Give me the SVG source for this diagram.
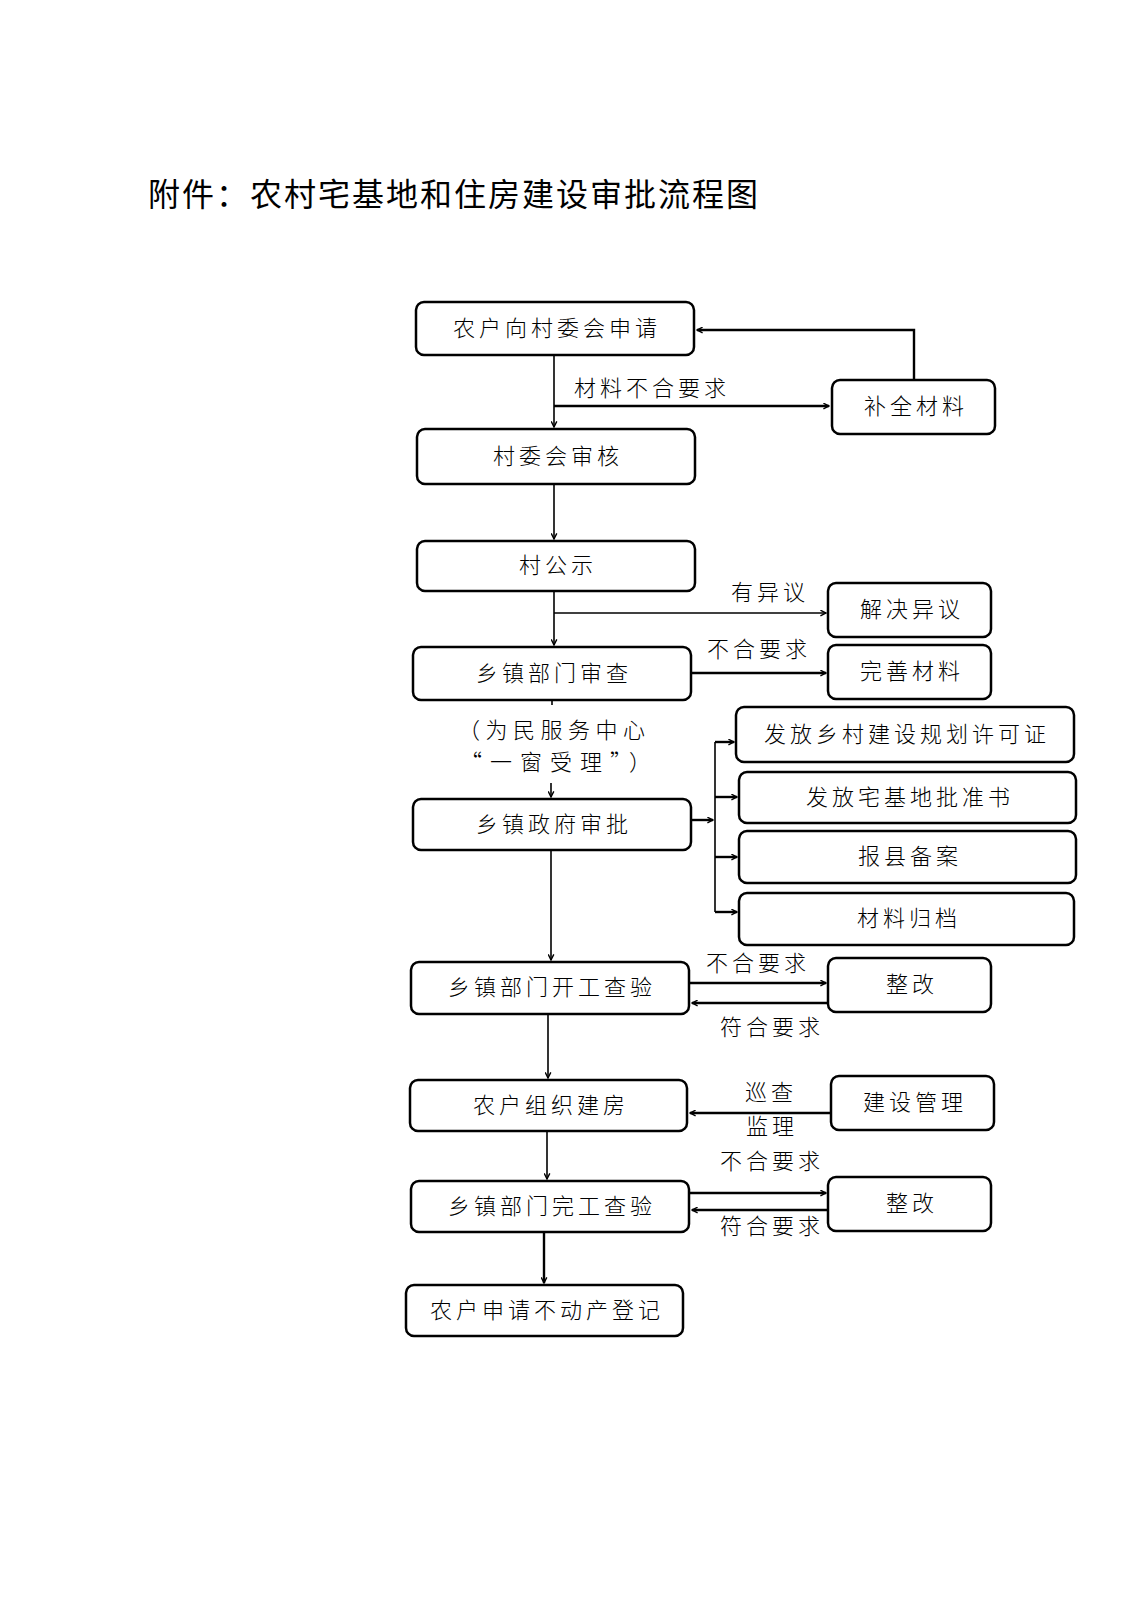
<svg xmlns="http://www.w3.org/2000/svg" width="1131" height="1600" viewBox="0 0 1131 1600">
<style>
.bg{fill:#fff}
.box{fill:#fff;stroke:#000;stroke-width:2.5}
.t{font-family:"Noto Sans CJK SC","Noto Sans",sans-serif;font-weight:300;font-size:22px;letter-spacing:4px;text-anchor:middle;fill:#000}
.lbl{font-family:"Noto Sans CJK SC","Noto Sans",sans-serif;font-weight:300;font-size:22px;letter-spacing:4px;fill:#000}
.title{font-family:"Noto Sans CJK SC","Noto Sans",sans-serif;font-weight:400;font-size:32px;letter-spacing:2px;fill:#000}
.c{fill:none;stroke:#000;stroke-width:1.6}
.ca{fill:none;stroke:#000;stroke-width:1.6;marker-end:url(#ah)}
.cb{fill:none;stroke:#000;stroke-width:2.4;marker-end:url(#ah)}
</style>
<defs>
<marker id="ah" viewBox="0 0 10 10" refX="9" refY="5" markerWidth="7" markerHeight="7" markerUnits="userSpaceOnUse" orient="auto">
<path d="M1,1 L9,5 L1,9" fill="none" stroke="#000" stroke-width="2"/>
</marker>
</defs>
<rect class="bg" x="0" y="0" width="1131" height="1600"/>
<text class="title" x="148" y="206">附件：农村宅基地和住房建设审批流程图</text>

<g id="connectors">
<path class="cb" d="M914,380 V330 H697"/>
<path class="ca" d="M554,355 V427"/>
<path class="cb" d="M554,406 H829"/>
<path class="ca" d="M554,484 V539"/>
<path class="ca" d="M554,591 V645"/>
<path class="ca" d="M554,613 H826"/>
<path class="cb" d="M691,673 H826"/>
<path class="c" d="M552,700 V705"/>
<path class="ca" d="M551,783 V797"/>
<path class="cb" d="M691,820 H713"/>
<path class="c" d="M715,742 V912"/>
<path class="cb" d="M715,742 H734"/>
<path class="cb" d="M715,797 H737"/>
<path class="cb" d="M715,857 H737"/>
<path class="cb" d="M715,912 H737"/>
<path class="ca" d="M551,850 V960"/>
<path class="cb" d="M689,983 H826"/>
<path class="cb" d="M828,1003 H692"/>
<path class="ca" d="M548,1014 V1078"/>
<path class="cb" d="M831,1113 H690"/>
<path class="ca" d="M547,1131 V1179"/>
<path class="cb" d="M689,1193 H826"/>
<path class="cb" d="M828,1210 H692"/>
<path class="cb" d="M544,1232 V1283"/>
<text class="lbl" x="574" y="396">材料不合要求</text>
<text class="lbl" x="731" y="600">有异议</text>
<text class="lbl" x="707" y="657">不合要求</text>
<text class="lbl" x="706" y="971">不合要求</text>
<text class="lbl" x="720" y="1035">符合要求</text>
<text class="lbl" x="745" y="1100">巡查</text>
<text class="lbl" x="746" y="1134">监理</text>
<text class="lbl" x="720" y="1169">不合要求</text>
<text class="lbl" x="720" y="1234">符合要求</text>
</g>

<g id="n1"><rect class="box" x="416" y="302" width="278" height="53" rx="8"/><text class="t" x="557" y="336">农户向村委会申请</text></g>
<g id="n_buquan"><rect class="box" x="832" y="380" width="163" height="54" rx="8"/><text class="t" x="916" y="414">补全材料</text></g>
<g id="n2"><rect class="box" x="417" y="429" width="278" height="55" rx="8"/><text class="t" x="558" y="464">村委会审核</text></g>
<g id="n3"><rect class="box" x="417" y="541" width="278" height="50" rx="8"/><text class="t" x="558" y="573">村公示</text></g>
<g id="n_jiejue"><rect class="box" x="828" y="583" width="163" height="54" rx="8"/><text class="t" x="912" y="617">解决异议</text></g>
<g id="n4"><rect class="box" x="413" y="647" width="278" height="53" rx="8"/><text class="t" x="554" y="681">乡镇部门审查</text></g>
<g id="n_wanshan"><rect class="box" x="828" y="645" width="163" height="54" rx="8"/><text class="t" x="912" y="679">完善材料</text></g>
<g id="note"><text class="lbl" x="458" y="738" style="letter-spacing:5.5px">（为民服务中心</text><text class="lbl" x="460" y="770" style="letter-spacing:8px">“一窗受理”）</text></g>
<g id="n5"><rect class="box" x="413" y="799" width="278" height="51" rx="8"/><text class="t" x="554" y="832">乡镇政府审批</text></g>
<g id="n_guihua"><rect class="box" x="736" y="707" width="338" height="55" rx="8"/><text class="t" x="907" y="742">发放乡村建设规划许可证</text></g>
<g id="n_pizhun"><rect class="box" x="739" y="772" width="337" height="51" rx="8"/><text class="t" x="910" y="805">发放宅基地批准书</text></g>
<g id="n_beian"><rect class="box" x="739" y="831" width="337" height="52" rx="8"/><text class="t" x="910" y="864">报县备案</text></g>
<g id="n_guidang"><rect class="box" x="739" y="893" width="335" height="52" rx="8"/><text class="t" x="909" y="926">材料归档</text></g>
<g id="n6"><rect class="box" x="411" y="962" width="278" height="52" rx="8"/><text class="t" x="552" y="995">乡镇部门开工查验</text></g>
<g id="n_zhenggai1"><rect class="box" x="828" y="958" width="163" height="54" rx="8"/><text class="t" x="912" y="992">整改</text></g>
<g id="n7"><rect class="box" x="410" y="1080" width="277" height="51" rx="8"/><text class="t" x="551" y="1113">农户组织建房</text></g>
<g id="n_jianshe"><rect class="box" x="831" y="1076" width="163" height="54" rx="8"/><text class="t" x="915" y="1110">建设管理</text></g>
<g id="n8"><rect class="box" x="411" y="1181" width="278" height="51" rx="8"/><text class="t" x="552" y="1214">乡镇部门完工查验</text></g>
<g id="n_zhenggai2"><rect class="box" x="828" y="1177" width="163" height="54" rx="8"/><text class="t" x="912" y="1211">整改</text></g>
<g id="n9"><rect class="box" x="406" y="1285" width="277" height="51" rx="8"/><text class="t" x="547" y="1318">农户申请不动产登记</text></g>
</svg>
